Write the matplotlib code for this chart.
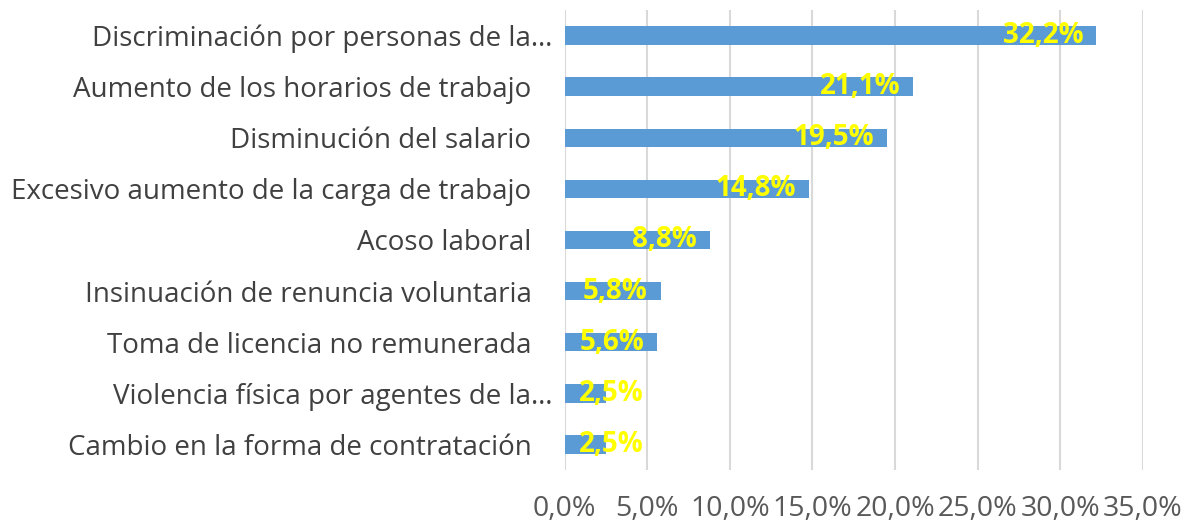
import matplotlib
matplotlib.use("Agg")
import matplotlib.pyplot as plt
import matplotlib.transforms as mtransforms
from matplotlib.ticker import FuncFormatter

categorias = [
    "Discriminación por personas de la…",
    "Aumento de los horarios de trabajo",
    "Disminución del salario",
    "Excesivo aumento de la carga de trabajo",
    "Acoso laboral",
    "Insinuación de renuncia voluntaria",
    "Toma de licencia no remunerada",
    "Violencia física por agentes de la…",
    "Cambio en la forma de contratación",
]
valores = [32.2, 21.1, 19.5, 14.8, 8.8, 5.8, 5.6, 2.5, 2.5]
ticks_x = [0, 5, 10, 15, 20, 25, 30, 35]

plt.rcParams['font.family'] = ['Open Sans', 'DejaVu Sans']

fig = plt.figure(figsize=(11.89, 5.24), dpi=100)
ax = fig.add_axes([0.475, 0.103, 0.486, 0.878])

pos = list(range(len(categorias)))[::-1]
ax.barh(pos, valores, height=0.36, color="#5B9BD5", zorder=2)

for y, v in zip(pos, valores):
    etiqueta = f"{v:.1f}%".replace(".", ",")
    if v < 5:
        ax.annotate(etiqueta, (0, y), xytext=(14, 0), textcoords="offset pixels",
                    ha="left", va="center", color="#FFFF00", fontsize=20,
                    fontweight="bold", zorder=3)
    else:
        ax.annotate(etiqueta, (v, y), xytext=(-13, 0), textcoords="offset pixels",
                    ha="right", va="center", color="#FFFF00", fontsize=20,
                    fontweight="bold", zorder=3)

ax.set_xlim(0, 35)
ax.set_ylim(-0.5, len(categorias) - 0.5)
ax.set_xticks(ticks_x)
ax.xaxis.set_major_formatter(FuncFormatter(lambda x, _: f"{x:.1f}%".replace(".", ",")))
ax.set_yticks(pos)
ax.set_yticklabels(categorias)
ax.tick_params(axis="y", length=0, pad=24, labelsize=20, labelcolor="#404040")
ax.tick_params(axis="x", length=0, pad=18, labelsize=20.5, labelcolor="#595959")
ax.grid(axis="x", color="#D9D9D9", linewidth=1.5, zorder=0)
for s in ax.spines.values():
    s.set_visible(False)

# las etiquetas truncadas quedan un poco más a la derecha
desplaza = mtransforms.ScaledTranslation(21 / 100, 0, fig.dpi_scale_trans)
for lbl in ax.get_yticklabels():
    if lbl.get_text().endswith("…"):
        lbl.set_transform(lbl.get_transform() + desplaza)

fig.savefig("out.png", dpi=100)
